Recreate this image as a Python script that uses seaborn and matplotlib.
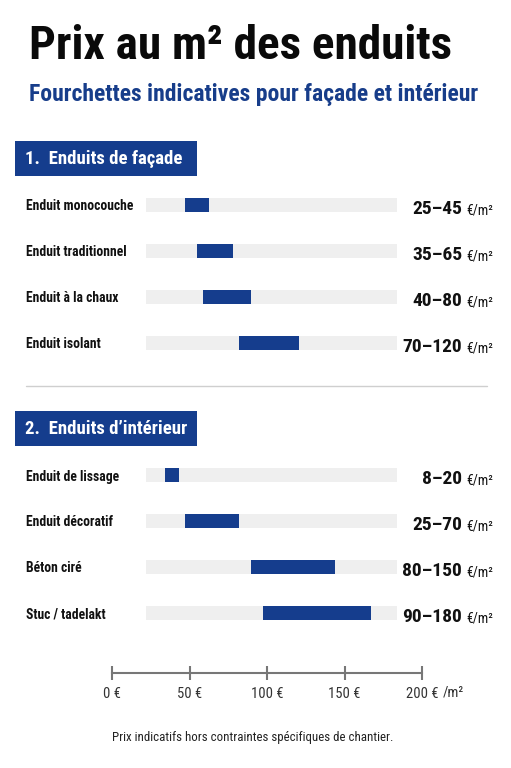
import matplotlib
matplotlib.use("Agg")
import matplotlib.pyplot as plt
import seaborn as sns
import pandas as pd
from matplotlib.patches import Rectangle
from matplotlib.lines import Line2D

# data
facade_labels = ["Enduit monocouche", "Enduit traditionnel", "Enduit à la chaux", "Enduit isolant"]
facade_low = [25, 35, 40, 70]
facade_high = [45, 65, 80, 120]

interieur_labels = ["Enduit de lissage", "Enduit décoratif", "Béton ciré", "Stuc / tadelakt"]
interieur_low = [8, 25, 80, 90]
interieur_high = [20, 70, 150, 180]

axis_ticks = [0, 50, 100, 150, 200]
axis_labels = ["0 €", "50 €", "100 €", "150 €", "200 €"]

W, H = 511, 768
BLUE = "#153d8d"
TRACK = "#efefef"
XLIM = (-8, 202)

sns.set_theme(style="white")
plt.rcParams["font.family"] = ["Roboto Condensed", "DejaVu Sans"]


def fx(x):
    return x / W


def fy(y):
    return 1 - y / H


fig = plt.figure(figsize=(W / 100, H / 100), dpi=100)
fig.patch.set_facecolor("white")

fig.text(fx(29), fy(59), "Prix au m² des enduits", fontsize=34, fontweight="bold",
         color="#0a0a0a", va="baseline")
fig.text(fx(29), fy(101.5), "Fourchettes indicatives pour façade et intérieur", fontsize=17,
         fontweight="bold", color="#173d8a", va="baseline")


def section(top_px, header, labels, low, high):
    # header box
    fig.add_artist(Rectangle((fx(15), fy(top_px + 35)), fx(182), 35 / H,
                             transform=fig.transFigure, color=BLUE, lw=0))
    fig.text(fx(25), fy(top_px + 17.5), header, fontsize=13.5, fontweight="bold",
             color="white", va="center")

    df = pd.DataFrame({"label": labels, "low": low, "high": high})
    rows_top = top_px + 41
    ax = fig.add_axes([fx(146), fy(rows_top + 184), fx(251), 184 / H])
    n = len(df)
    ax.barh(range(n), XLIM[1] - XLIM[0], left=XLIM[0], height=0.31, color=TRACK, lw=0)
    sns.barplot(data=df, x="high", y="label", color=BLUE, width=0.31, saturation=1,
                linewidth=0, edgecolor="none", ax=ax, orient="h")
    sns.barplot(data=df, x="low", y="label", color=TRACK, width=0.31, saturation=1,
                linewidth=0, edgecolor="none", ax=ax, orient="h")
    ax.set_xlim(*XLIM)
    ax.set_ylim(n - 0.5, -0.5)
    ax.set_xlabel("")
    ax.set_ylabel("")
    ax.set_xticks([])
    for s in ax.spines.values():
        s.set_visible(False)
    ax.tick_params(axis="y", length=0, pad=86.5)
    for t in ax.get_yticklabels():
        t.set_ha("left")
        t.set_fontsize(9.8)
        t.set_fontweight("bold")
        t.set_color("#111111")
    tr = ax.get_yaxis_transform()
    for i, r in df.iterrows():
        ax.annotate(f"{r.low}–{r.high}", (1.259, i), xycoords=tr, xytext=(0, -6.5),
                    textcoords="offset points", ha="right", va="baseline",
                    fontsize=14, fontweight="bold", color="#111111", annotation_clip=False)
        ax.annotate("€/m²", (1.275, i), xycoords=tr, xytext=(0, -6.5),
                    textcoords="offset points", ha="left", va="baseline",
                    fontsize=10, color="#111111", annotation_clip=False)


section(141, "1.  Enduits de façade", facade_labels, facade_low, facade_high)
fig.add_artist(Line2D([fx(26), fx(487)], [fy(385.5), fy(385.5)], color="#cfcfcf", lw=1,
                      transform=fig.transFigure))
section(411, "2.  Enduits d\u2019intérieur", interieur_labels, interieur_low, interieur_high)

# bottom scale
axs = fig.add_axes([fx(112), fy(673), fx(310), 1 / H])
axs.set_xlim(axis_ticks[0], axis_ticks[-1])
axs.set_yticks([])
for k in ["top", "left", "right"]:
    axs.spines[k].set_visible(False)
axs.spines["bottom"].set_color("#777777")
axs.spines["bottom"].set_linewidth(1.5)
axs.set_xticks(axis_ticks)
axs.set_xticklabels(axis_labels)
axs.tick_params(axis="x", bottom=True, direction="inout", length=9.5, width=1.5,
                color="#777777", labelsize=10.5, labelcolor="#333333", pad=5)
axs.annotate("/m²", (axis_ticks[-1], 0), xycoords=axs.get_xaxis_transform(),
             xytext=(15, -17), textcoords="offset points", ha="left", va="baseline",
             fontsize=10.5, color="#333333", annotation_clip=False)

fig.text(fx(253), fy(737), "Prix indicatifs hors contraintes spécifiques de chantier.",
         fontsize=9.3, color="#222222", ha="center", va="center")

fig.savefig("out.png", dpi=100)
